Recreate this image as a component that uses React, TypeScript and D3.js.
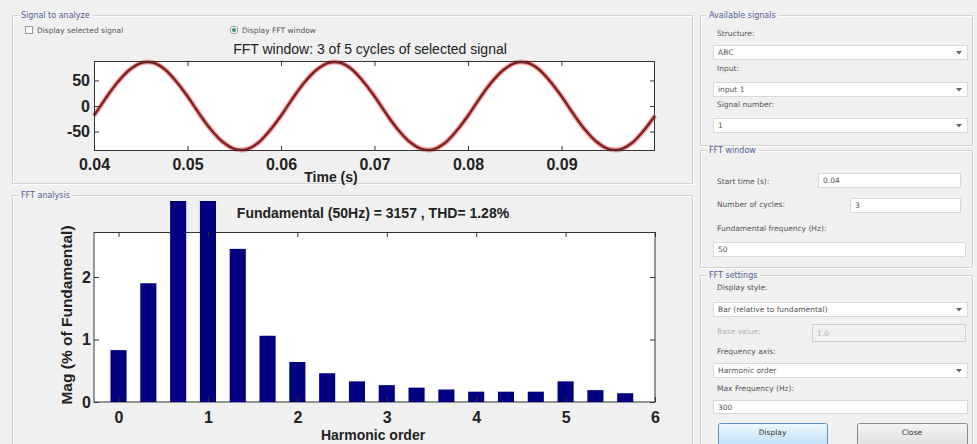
import { useEffect, useRef } from "react";
import * as d3 from "d3";

const W = 977;
const H = 444;
const FONT = "'Liberation Sans', Arial, sans-serif";
const UI_FONT = "'DejaVu Sans', 'Liberation Sans', sans-serif";

const T_START = 0.04;
const T_STEP = 0.00125;
const SIGNAL = [
  -19, 15, 46, 70, 84, 85, 73, 49, 19, -15, -46, -70, -84, -85, -73, -49,
  -19, 15, 46, 70, 84, 85, 73, 49, 19, -15, -46, -70, -84, -85, -73, -49,
  -19, 15, 46, 70, 84, 85, 73, 49, 19, -15, -46, -70, -84, -85, -73, -49,
  -19,
];
const TIME_TICKS = [0.04, 0.05, 0.06, 0.07, 0.08, 0.09];
const SIGNAL_TICKS = [-50, 0, 50];

// FFT bars, harmonic order in steps of 1/3 (3-cycle window)
const HARMONIC_ORDER = [0, 1 / 3, 2 / 3, 1, 4 / 3, 5 / 3, 2, 7 / 3, 8 / 3, 3, 10 / 3, 11 / 3, 4, 13 / 3, 14 / 3, 5, 16 / 3, 17 / 3];
const MAG_PCT = [0.83, 1.9, 4.5, 100, 2.45, 1.06, 0.64, 0.46, 0.33, 0.27, 0.23, 0.2, 0.165, 0.165, 0.165, 0.33, 0.19, 0.14];
const ORDER_TICKS = [0, 1, 2, 3, 4, 5, 6];
const MAG_TICKS = [0, 1, 2];

const SIGNAL_TITLE = "FFT window: 3 of 5 cycles of selected signal";
const FFT_TITLE = "Fundamental (50Hz) = 3157 , THD= 1.28%";

type G = d3.Selection<SVGGElement, unknown, null, undefined>;

function panel(g: G, x: number, y: number, w: number, h: number, title: string) {
  g.append("rect").attr("x", x + 1.5).attr("y", y + 1.5).attr("width", w).attr("height", h)
    .attr("fill", "none").attr("stroke", "#ffffff");
  g.append("rect").attr("x", x + 0.5).attr("y", y + 0.5).attr("width", w).attr("height", h)
    .attr("fill", "none").attr("stroke", "#d2d2d2");
  const bg = g.append("rect").attr("fill", "#f0f0f0");
  const t = g.append("text").attr("x", x + 9).attr("y", y + 3)
    .attr("font-family", UI_FONT).attr("font-size", 8).attr("fill", "#51609a").text(title);
  const len = (t.node() as SVGTextElement).getComputedTextLength();
  bg.attr("x", x + 6).attr("y", y - 3).attr("width", len + 6).attr("height", 8);
}

function label(g: G, x: number, y: number, text: string, grey = false) {
  g.append("text").attr("x", x).attr("y", y)
    .attr("font-family", UI_FONT).attr("font-size", 7.5)
    .attr("fill", grey ? "#b4b4b4" : "#555").text(text);
}

function edit(g: G, x: number, y: number, w: number, h: number, text: string, grey = false) {
  g.append("rect").attr("x", x + 0.5).attr("y", y + 0.5).attr("width", w).attr("height", h)
    .attr("fill", grey ? "#f0f0f0" : "#ffffff").attr("stroke", grey ? "#cfcfcf" : "#d8d8d8");
  g.append("text").attr("x", x + 5).attr("y", y + h / 2 + 3)
    .attr("font-family", UI_FONT).attr("font-size", 7.5)
    .attr("fill", grey ? "#b4b4b4" : "#555").text(text);
}

function popup(g: G, x: number, y: number, w: number, h: number, text: string) {
  edit(g, x, y, w, h, text);
  const cx = x + w - 8;
  const cy = y + h / 2 + 0.5;
  g.append("path").attr("d", `M${cx - 3},${cy - 1.5}L${cx + 3},${cy - 1.5}L${cx},${cy + 2}Z`).attr("fill", "#666");
}

function button(g: G, x: number, y: number, w: number, h: number, text: string, grad: string, stroke: string) {
  g.append("rect").attr("x", x + 0.5).attr("y", y + 0.5).attr("width", w).attr("height", h)
    .attr("rx", 2).attr("fill", `url(#${grad})`).attr("stroke", stroke);
  g.append("text").attr("x", x + w / 2).attr("y", y + 12).attr("text-anchor", "middle")
    .attr("font-family", UI_FONT).attr("font-size", 7.5).attr("fill", "#333").text(text);
}

function styleAxis(g: G, size: number) {
  g.attr("font-family", null).attr("font-size", null);
  g.select(".domain").remove();
  g.selectAll("line").attr("stroke", "#333");
  g.selectAll("text")
    .attr("font-family", FONT).attr("font-size", size).attr("font-weight", "bold").attr("fill", "#222");
}

export default function App() {
  const svgRef = useRef<SVGSVGElement>(null);

  useEffect(() => {
    if (!svgRef.current) return;
    const svg = d3.select(svgRef.current);
    svg.selectAll("*").remove();
    svg.attr("width", W).attr("height", H).attr("viewBox", `0 0 ${W} ${H}`);

    const defs = svg.append("defs");
    const blue = defs.append("linearGradient").attr("id", "btnBlue").attr("x1", 0).attr("x2", 0).attr("y1", 0).attr("y2", 1);
    blue.append("stop").attr("offset", "0%").attr("stop-color", "#eef7fe");
    blue.append("stop").attr("offset", "50%").attr("stop-color", "#d2eafa");
    blue.append("stop").attr("offset", "100%").attr("stop-color", "#b8ddf7");
    const grey = defs.append("linearGradient").attr("id", "btnGrey").attr("x1", 0).attr("x2", 0).attr("y1", 0).attr("y2", 1);
    grey.append("stop").attr("offset", "0%").attr("stop-color", "#f4f4f4");
    grey.append("stop").attr("offset", "100%").attr("stop-color", "#dcdcdc");
    defs.append("clipPath").attr("id", "barClip")
      .append("rect").attr("x", 0).attr("y", 201).attr("width", W).attr("height", H - 201);

    svg.append("rect").attr("width", W).attr("height", H).attr("fill", "#f0f0f0");
    const root = svg.append("g") as unknown as G;

    // ---------- panels ----------
    panel(root, 12, 15, 680, 168, "Signal to analyze");
    panel(root, 12, 195, 680, 260, "FFT analysis");
    panel(root, 700, 15, 272, 130, "Available signals");
    panel(root, 700, 150, 272, 117, "FFT window");
    panel(root, 700, 275, 272, 180, "FFT settings");

    // signal panel options
    root.append("rect").attr("x", 25.5).attr("y", 26.5).attr("width", 7).attr("height", 7)
      .attr("fill", "#f8f8f8").attr("stroke", "#9a9a9a");
    label(root, 37, 33, "Display selected signal");
    root.append("circle").attr("cx", 234).attr("cy", 30).attr("r", 3.8).attr("fill", "#f8f8f8").attr("stroke", "#9a9a9a");
    root.append("circle").attr("cx", 234).attr("cy", 30).attr("r", 2).attr("fill", "#3f8f6a");
    label(root, 242, 33, "Display FFT window");

    // ---------- signal plot ----------
    const xT = d3.scaleLinear().domain([0.04, 0.1]).range([94, 655]);
    const yT = d3.scaleLinear().domain([-88, 88]).range([151, 61]);
    root.append("rect").attr("x", 94).attr("y", 61).attr("width", 561).attr("height", 90).attr("fill", "#fff");

    const line = d3.line<number>()
      .x((_, i) => xT(T_START + i * T_STEP))
      .y(d => yT(d))
      .curve(d3.curveCatmullRom);
    root.append("path").datum(SIGNAL).attr("d", line).attr("fill", "none")
      .attr("stroke", "#ef5a5a").attr("stroke-opacity", 0.55).attr("stroke-width", 5);
    root.append("path").datum(SIGNAL).attr("d", line).attr("fill", "none")
      .attr("stroke", "#7d2020").attr("stroke-width", 2.4);

    root.append("rect").attr("x", 94.5).attr("y", 61.5).attr("width", 560).attr("height", 89)
      .attr("fill", "none").attr("stroke", "#333");

    const tb = root.append("g").attr("transform", "translate(0,151)")
      .call(d3.axisBottom(xT).tickValues(TIME_TICKS).tickSizeInner(-5).tickSizeOuter(0).tickPadding(7.5)
        .tickFormat(d => d3.format(".2f")(d as number))) as unknown as G;
    styleAxis(tb, 16);
    const tt = root.append("g").attr("transform", "translate(0,61)")
      .call(d3.axisTop(xT).tickValues(TIME_TICKS).tickSizeInner(-5).tickSizeOuter(0).tickFormat(() => "")) as unknown as G;
    styleAxis(tt, 16);
    const tl = root.append("g").attr("transform", "translate(94,0)")
      .call(d3.axisLeft(yT).tickValues(SIGNAL_TICKS).tickSizeInner(-5).tickSizeOuter(0).tickPadding(4)
        .tickFormat(d => String(d))) as unknown as G;
    styleAxis(tl, 16);
    const tr = root.append("g").attr("transform", "translate(655,0)")
      .call(d3.axisRight(yT).tickValues(SIGNAL_TICKS).tickSizeInner(-5).tickSizeOuter(0).tickFormat(() => "")) as unknown as G;
    styleAxis(tr, 16);

    root.append("text").attr("x", 370).attr("y", 54).attr("text-anchor", "middle")
      .attr("font-family", FONT).attr("font-size", 14).attr("fill", "#222").text(SIGNAL_TITLE);
    root.append("text").attr("x", 331).attr("y", 182).attr("text-anchor", "middle")
      .attr("font-family", FONT).attr("font-size", 14).attr("font-weight", "bold").attr("fill", "#222").text("Time (s)");

    // ---------- FFT bar plot ----------
    const xB = d3.scaleLinear().domain([-0.28, 6]).range([93.5, 655]);
    const yB = d3.scaleLinear().domain([0, 2.72]).range([402, 232]);
    root.append("rect").attr("x", 93.5).attr("y", 232).attr("width", 561.5).attr("height", 170).attr("fill", "#fff");
    root.append("rect").attr("x", 94).attr("y", 232.5).attr("width", 561).attr("height", 169.5)
      .attr("fill", "none").attr("stroke", "#333");

    const bw = xB(0.09) - xB(-0.09);
    root.append("g").attr("clip-path", "url(#barClip)")
      .selectAll("rect").data(HARMONIC_ORDER).join("rect")
      .attr("x", d => xB(d) - bw / 2)
      .attr("y", (_, i) => yB(MAG_PCT[i]))
      .attr("width", bw)
      .attr("height", (_, i) => yB(0) - yB(MAG_PCT[i]))
      .attr("fill", "#000080");

    const bb = root.append("g").attr("transform", "translate(0,402)")
      .call(d3.axisBottom(xB).tickValues(ORDER_TICKS).tickSizeInner(-5).tickSizeOuter(0).tickPadding(9.5)
        .tickFormat(d => String(d))) as unknown as G;
    styleAxis(bb, 16);
    const bt = root.append("g").attr("transform", "translate(0,232)")
      .call(d3.axisTop(xB).tickValues(ORDER_TICKS).tickSizeInner(-5).tickSizeOuter(0).tickFormat(() => "")) as unknown as G;
    styleAxis(bt, 16);
    const bl = root.append("g").attr("transform", "translate(94,0)")
      .call(d3.axisLeft(yB).tickValues(MAG_TICKS).tickSizeInner(-5).tickSizeOuter(0).tickPadding(3)
        .tickFormat(d => String(d))) as unknown as G;
    styleAxis(bl, 16);
    const br = root.append("g").attr("transform", "translate(655,0)")
      .call(d3.axisRight(yB).tickValues(MAG_TICKS).tickSizeInner(-5).tickSizeOuter(0).tickFormat(() => "")) as unknown as G;
    styleAxis(br, 16);

    root.append("text").attr("x", 373).attr("y", 218).attr("text-anchor", "middle")
      .attr("font-family", FONT).attr("font-size", 14).attr("font-weight", "bold").attr("fill", "#222").text(FFT_TITLE);
    root.append("text").attr("x", 373).attr("y", 440).attr("text-anchor", "middle")
      .attr("font-family", FONT).attr("font-size", 14).attr("font-weight", "bold").attr("fill", "#222").text("Harmonic order");
    root.append("text").attr("transform", "translate(72,315) rotate(-90)").attr("text-anchor", "middle")
      .attr("font-family", FONT).attr("font-size", 15.5).attr("font-weight", "bold").attr("fill", "#222")
      .text("Mag (% of Fundamental)");

    // ---------- right side controls ----------
    label(root, 717, 36, "Structure:");
    popup(root, 713, 45, 254, 14, "ABC");
    label(root, 717, 71, "Input:");
    popup(root, 713, 82, 254, 14, "input 1");
    label(root, 717, 107, "Signal number:");
    popup(root, 713, 118, 254, 14, "1");

    label(root, 717, 184, "Start time (s):");
    edit(root, 818, 173, 142, 14, "0.04");
    label(root, 717, 207, "Number of cycles:");
    edit(root, 850, 198, 110, 14, "3");
    label(root, 717, 231, "Fundamental frequency (Hz):");
    edit(root, 713, 242, 252, 14, "50");

    label(root, 717, 290, "Display style:");
    popup(root, 713, 302, 254, 14, "Bar (relative to fundamental)");
    label(root, 717, 334, "Base value:", true);
    edit(root, 812, 324, 153, 17, "1.0", true);
    label(root, 717, 354, "Frequency axis:");
    popup(root, 713, 363, 254, 14, "Harmonic order");
    label(root, 717, 391, "Max Frequency (Hz):");
    edit(root, 713, 400, 254, 13, "300");

    button(root, 718, 423, 109, 26, "Display", "btnBlue", "#5a93c4");
    button(root, 857, 423, 110, 26, "Close", "btnGrey", "#8a8a8a");
  }, []);

  return (
    <>
      <style>{"body{margin:0;overflow:hidden}"}</style>
      <svg ref={svgRef} style={{ display: "block" }} />
    </>
  );
}
